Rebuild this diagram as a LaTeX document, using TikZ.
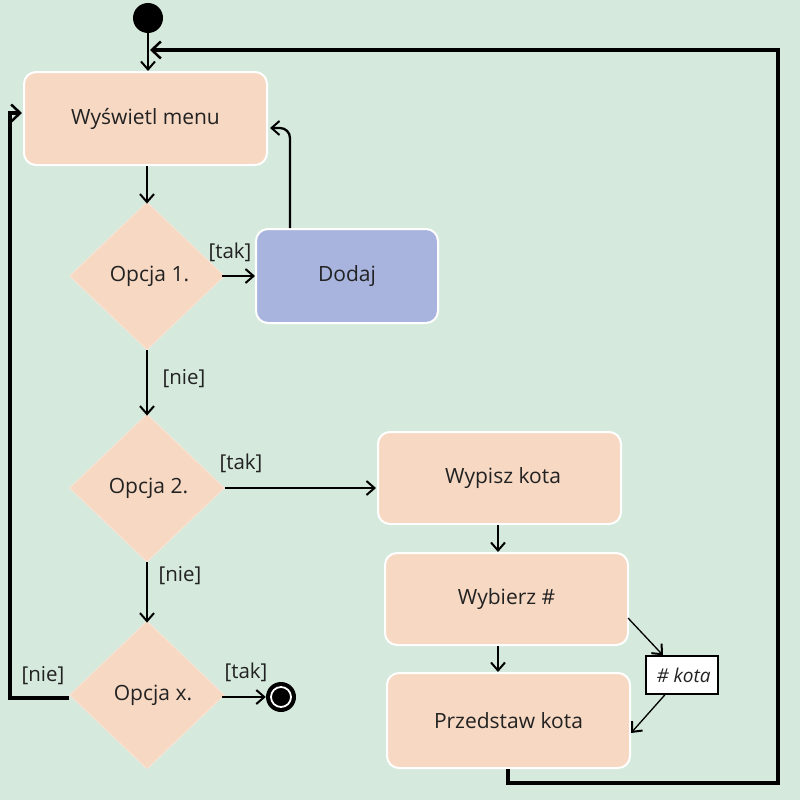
\documentclass[tikz,border=0pt]{standalone}
\usepackage{fontspec}
\setmainfont{Open Sans}
\usetikzlibrary{shapes.geometric,arrows.meta,positioning}
\definecolor{bg}{HTML}{D5EADD}
\definecolor{act}{HTML}{F7D8C3}
\definecolor{blueact}{HTML}{A8B4DE}
\definecolor{txt}{HTML}{222222}
\tikzset{
  actbox/.style={rectangle, rounded corners=12pt, draw=white, line width=2pt, fill=act, text=txt, font=\fontsize{21}{24}\selectfont, inner sep=0pt},
  decis/.style={diamond, fill=act, draw=act!70!white, line width=0.8pt, text=txt, font=\fontsize{21}{24}\selectfont, minimum width=155pt, minimum height=148pt, inner sep=0pt},
  lbl/.style={text=txt, font=\fontsize{20.5}{24}\selectfont, inner sep=0pt},
  flow/.style={line width=2.3pt, -{Straight Barb[length=8pt,width=14pt,line width=2pt]}},
  thin flow/.style={line width=1.4pt, -{Straight Barb[length=8pt,width=14pt,line width=2pt]}},
  loop/.style={line width=3.5pt, -{Straight Barb[length=9pt,width=17pt,line width=2.5pt]}},
}
\begin{document}
\begin{tikzpicture}[x=1pt,y=-1pt]
\fill[bg] (0,0) rectangle (800,800);
\useasboundingbox (0,0) rectangle (800,800);

\node[circle, fill=black, minimum size=30pt, inner sep=0pt] (start) at (148,18) {};
\node[actbox, minimum width=243pt, minimum height=93pt] (menu) at (145.5,118.5) {Wyświetl menu};
\node[decis] (o1) at (147,276) {\hspace{5pt}Opcja 1.};
\node[actbox, fill=blueact, minimum width=182pt, minimum height=94pt] (dodaj) at (347,276) {Dodaj};
\node[decis] (o2) at (147,488) {\hspace{3pt}Opcja 2.};
\node[actbox, minimum width=243pt, minimum height=92pt] (wypisz) at (499.5,478) {\hspace{7pt}Wypisz kota};
\node[actbox, minimum width=243pt, minimum height=92pt] (wybierz) at (506.5,599) {Wybierz \#};
\node[actbox, minimum width=243pt, minimum height=95pt] (przed) at (508.5,720.5) {Przedstaw kota};
\node[decis] (ox) at (147,695) {\hspace{12pt}Opcja x.};
\node[circle, fill=black, minimum size=30pt, inner sep=0pt] (final) at (281,697) {};
\node[circle, fill=black, draw=white, line width=1.8pt, minimum size=20pt, inner sep=0pt] at (final) {};
\node[rectangle, draw=black, line width=1.4pt, fill=white, minimum width=72pt, minimum height=38pt, inner sep=0pt, font=\itshape\fontsize{19}{22}\selectfont, text=txt] (note) at (682,675) {\,\# kota};

% labels
\node[lbl] (l1) at (230,252) {[tak]};
\node[lbl] (l2) at (184,379) {[nie]};
\node[lbl] (l3) at (241,463) {[tak]};
\node[lbl] (l4) at (180,576) {[nie]};
\node[lbl] (l5) at (246,672) {[tak]};
\node[lbl] (l6) at (43,676) {[nie]};

% connectors
\draw[flow] (start.south) -- (menu.north -| start);
\draw[flow] (menu.south -| o1) -- ([yshift=-2pt]o1.north);
\draw[flow] ([xshift=-3pt]o1.east) -- (dodaj.west |- o1);
\draw[flow, rounded corners=10pt] (dodaj.north -| 290,0) -- (290,128) -- ([xshift=2pt]menu.east |- 0,128);
\draw[flow] (o1.south) -- ([yshift=-2pt]o2.north);
\draw[thin flow] (o2.east) -- ([xshift=-1pt]wypisz.west |- o2);
\draw[flow] (wypisz.south -| 498,0) -- (wybierz.north -| 498,0);
\draw[flow] (wybierz.south -| 498,0) -- (przed.north -| 498,0);
\draw[flow] (o2.south) -- ([yshift=-2pt]ox.north);
\draw[flow] ([xshift=-3pt]ox.east |- final) -- (final.west);
\draw[loop] (ox.west |- 0,698) -- (10,698) -- (10,113) -- ([xshift=-1pt]menu.west |- 0,113);
\draw[loop] (przed.south -| 508,0) -- (508,783) -- (778,783) -- (778,50) -- (150,50);
\coordinate (wyb1) at (628,618);
\draw[line width=1.3pt, -{Straight Barb[length=8pt,width=14pt,line width=2pt]}] (wyb1) -- (note.north -| 663,0);
\coordinate (nb) at (665,693);
\draw[line width=1.3pt, -{Straight Barb[length=8pt,width=14pt,line width=2pt]}] (note.south -| nb) -- (przed.east |- 0,733);
\end{tikzpicture}
\end{document}
